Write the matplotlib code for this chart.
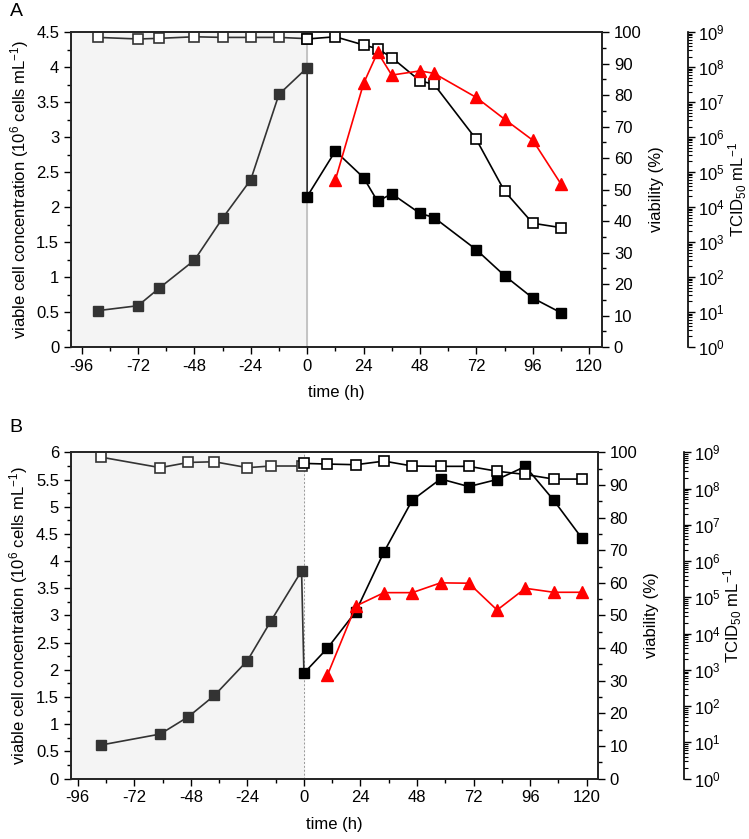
import numpy as np
import matplotlib
matplotlib.use("Agg")
import matplotlib.pyplot as plt
from matplotlib.ticker import MultipleLocator, LogLocator, NullFormatter

plt.rcParams['font.family'] = ['Liberation Sans', 'DejaVu Sans']
plt.rcParams['mathtext.fontset'] = 'custom'
plt.rcParams['mathtext.rm'] = 'Liberation Sans'
plt.rcParams['mathtext.it'] = 'Liberation Sans'
plt.rcParams['axes.unicode_minus'] = False
plt.rcParams['font.size'] = 12

# panel A
pre_t_A = [-89, -72, -63, -48, -36, -24, -12, 0]
pre_vcc_A = [0.52, 0.59, 0.84, 1.24, 1.84, 2.39, 3.61, 3.99]
pre_via_A = [98.3, 97.8, 98.0, 98.5, 98.3, 98.3, 98.3, 97.9]
post_t_A = [0, 12, 24, 30, 36, 48, 54, 72, 84, 96, 108]
post_vcc_A = [2.15, 2.80, 2.42, 2.08, 2.19, 1.91, 1.85, 1.39, 1.02, 0.70, 0.49]
post_via_A = [97.8, 98.5, 95.9, 94.7, 91.9, 84.5, 83.4, 65.9, 49.5, 39.3, 37.9]
tcid_t_A = [12, 24, 30, 36, 48, 54, 72, 84, 96, 108]
tcid_log_A = [4.77, 7.53, 8.42, 7.77, 7.89, 7.82, 7.13, 6.51, 5.91, 4.66]

# panel B
pre_t_B = [-86, -61, -49, -38, -24, -14, -1]
pre_vcc_B = [0.62, 0.82, 1.14, 1.53, 2.17, 2.90, 3.82]
pre_via_B = [98.5, 95.3, 96.9, 97.1, 95.3, 95.8, 95.8]
post_t_B = [0, 10, 22, 34, 46, 58, 70, 82, 94, 106, 118]
post_vcc_B = [1.94, 2.40, 3.07, 4.17, 5.12, 5.51, 5.37, 5.50, 5.74, 5.12, 4.42]
post_via_B = [96.6, 96.4, 96.2, 97.3, 95.8, 95.7, 95.7, 94.2, 93.2, 91.8, 91.8]
tcid_t_B = [10, 22, 34, 46, 58, 70, 82, 94, 106, 118]
tcid_log_B = [2.86, 4.76, 5.13, 5.13, 5.40, 5.39, 4.65, 5.25, 5.14, 5.14]

gray = '#333333'
red = '#ff0000'


def panel(rect, xlim, ymax, pre_t, pre_vcc, pre_via, post_t, post_vcc, post_via,
          tt, tlog, zero_style, letter, letter_y):
    ax = fig.add_axes(rect)
    ax.axvspan(xlim[0], 0, color='#f4f4f4', zorder=0)
    if zero_style == 'solid':
        ax.axvline(0, color='#bbbbbb', lw=1.2, zorder=1)
    else:
        ax.axvline(0, color='#999999', lw=0.7, ls=(0, (2, 2)), zorder=1)

    # cell concentration
    ax.plot(list(pre_t) + [post_t[0]], list(pre_vcc) + [post_vcc[0]], color=gray, lw=1.2, zorder=2)
    ax.plot(pre_t, pre_vcc, ls='none', marker='s', ms=7.5, color=gray, zorder=3)
    ax.plot(post_t, post_vcc, color='black', lw=1.2, marker='s', ms=7.5, zorder=3)
    ax.set_xlim(*xlim)
    ax.set_ylim(0, ymax)
    ax.xaxis.set_major_locator(MultipleLocator(24))
    ax.xaxis.set_minor_locator(MultipleLocator(12))
    ax.yaxis.set_major_locator(MultipleLocator(0.5))
    ax.yaxis.set_minor_locator(MultipleLocator(0.25))
    ax.yaxis.set_major_formatter(plt.FuncFormatter(lambda v, p: ('%g' % v)))
    ax.tick_params(which='major', direction='out', length=5, width=1)
    ax.tick_params(which='minor', direction='out', length=3, width=1)
    ax.tick_params(top=False, right=False)
    ax.set_xlabel('time (h)', labelpad=8)
    ax.set_ylabel('viable cell concentration (10$^{\\mathregular{6}}$ cells mL$^{\\mathregular{-1}}$)')
    for s in ax.spines.values():
        s.set_linewidth(1.2)
        s.set_color('#222222')

    # viability
    ax2 = ax.twinx()
    ax2.plot(list(pre_t) + [post_t[0]], list(pre_via) + [post_via[0]], color=gray, lw=1.2, zorder=2)
    ax2.plot(pre_t, pre_via, ls='none', marker='s', ms=7, mfc='white', mec=gray, mew=1.2)
    ax2.plot(post_t, post_via, color='black', lw=1.2, marker='s', ms=7, mfc='white', mec='black', mew=1.2)
    ax2.set_ylim(0, 100)
    ax2.yaxis.set_major_locator(MultipleLocator(10))
    ax2.yaxis.set_minor_locator(MultipleLocator(5))
    ax2.tick_params(which='major', direction='out', length=5, width=1)
    ax2.tick_params(which='minor', direction='out', length=3, width=1)
    ax2.set_ylabel('viability (%)', labelpad=5)
    for s in ax2.spines.values():
        s.set_linewidth(1.2)
        s.set_color('#222222')

    # TCID50
    ax3 = ax.twinx()
    ax3.spines['right'].set_position(('outward', 62))
    for k in ['top', 'left', 'bottom']:
        ax3.spines[k].set_visible(False)
    ax3.spines['right'].set_linewidth(1.2)
    ax3.plot(tt, 10 ** np.array(tlog), color=red, lw=1.2, marker='^', ms=9)
    ax3.set_yscale('log')
    ax3.set_ylim(1, 1e9)
    ax3.yaxis.set_major_locator(LogLocator(base=10, numticks=20))
    ax3.yaxis.set_minor_locator(LogLocator(base=10, subs=np.arange(2, 10), numticks=20))
    ax3.yaxis.set_minor_formatter(NullFormatter())
    ax3.tick_params(which='major', direction='out', length=5, width=1, pad=2)
    ax3.tick_params(which='minor', direction='out', length=3, width=0.8)
    ax3.set_ylabel('TCID$_{\\mathregular{50}}$ mL$^{\\mathregular{-1}}$', labelpad=1)

    fig.text(0.013, letter_y, letter, fontsize=14, va='center')
    return ax


fig = plt.figure(figsize=(7.49, 8.39), dpi=100)

panel([0.0948, 0.5864, 0.709, 0.3754], (-100.5, 125.5), 4.5,
      pre_t_A, pre_vcc_A, pre_via_A, post_t_A, post_vcc_A, post_via_A,
      tcid_t_A, tcid_log_A, 'solid', 'A', 0.986)
panel([0.0944, 0.0719, 0.7036, 0.389], (-99, 124.7), 6,
      pre_t_B, pre_vcc_B, pre_via_B, post_t_B, post_vcc_B, post_via_B,
      tcid_t_B, tcid_log_B, 'dotted', 'B', 0.491)

fig.savefig('out.png', dpi=100)
